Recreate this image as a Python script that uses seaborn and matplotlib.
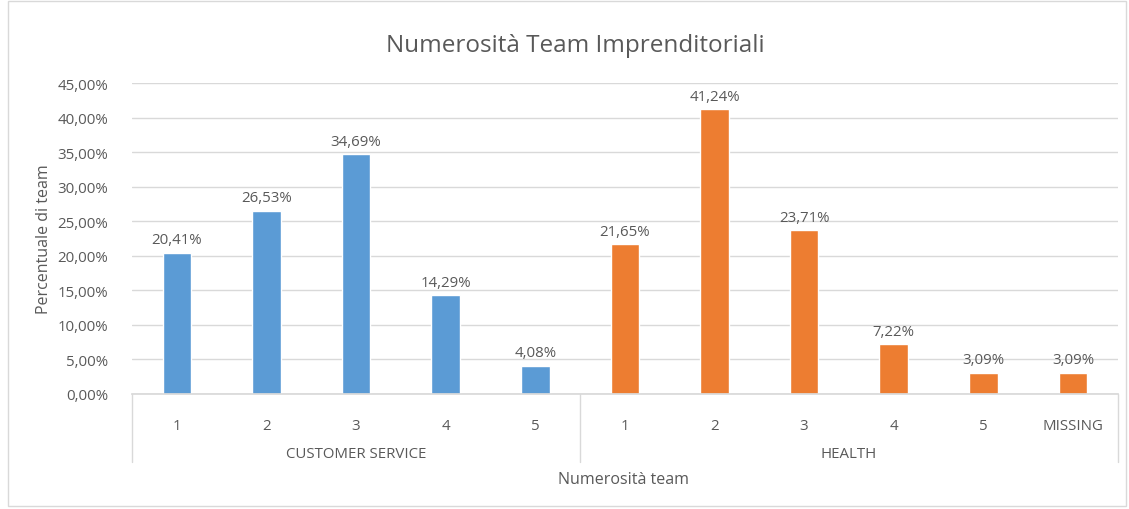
import numpy as np
import pandas as pd
import matplotlib
matplotlib.use("Agg")
import matplotlib.pyplot as plt
import matplotlib.transforms as mtransforms
import seaborn as sns

# data
groups = ["CUSTOMER SERVICE"] * 5 + ["HEALTH"] * 6
sizes = ["1", "2", "3", "4", "5", "1", "2", "3", "4", "5", "MISSING"]
values = [20.41, 26.53, 34.69, 14.29, 4.08, 21.65, 41.24, 23.71, 7.22, 3.09, 3.09]
yticks = [0, 5, 10, 15, 20, 25, 30, 35, 40, 45]

txt = "#595959"
colors = {"CUSTOMER SERVICE": "#5B9BD5", "HEALTH": "#ED7D31"}

sns.set_theme(style="white")
plt.rcParams["font.family"] = ["Open Sans", "DejaVu Sans"]

df = pd.DataFrame({
    "key": [f"{g}|{s}" for g, s in zip(groups, sizes)],
    "group": groups,
    "size": sizes,
    "pct": [v / 100 for v in values],
})

fig = plt.figure(figsize=(11.29, 5.10), dpi=100)
ax = fig.add_axes([0.117, 0.2255, 0.873, 0.6095])

sns.barplot(data=df, x="key", y="pct", hue="group", order=list(df["key"]),
            palette=colors, dodge=False, width=0.32, legend=False, ax=ax,
            saturation=1)

# data labels
for cont in ax.containers:
    labels = [f"{b.get_height()*100:.2f}%".replace(".", ",") for b in cont]
    ax.bar_label(cont, labels=labels, padding=4, fontsize=10.8, color=txt)

ax.set_ylim(0, 0.45)
ax.set_xlim(-0.5, len(sizes) - 0.5)
ax.set_yticks([t / 100 for t in yticks])
ax.set_yticklabels([f"{t:.2f}%".replace(".", ",") for t in yticks], fontsize=10.8, color=txt)
ax.yaxis.grid(True, color="#D9D9D9", linewidth=1)
ax.set_axisbelow(True)
for s in ["top", "right", "left"]:
    ax.spines[s].set_visible(False)
ax.spines["bottom"].set_color("#D9D9D9")
ax.tick_params(axis="y", length=0, pad=17)

ax.set_xticks(range(len(sizes)))
ax.set_xticklabels(sizes, fontsize=10.8, color=txt)
ax.tick_params(axis="x", length=0, pad=17)

# group level of the category axis
trans = mtransforms.blended_transform_factory(ax.transData, ax.transAxes)
bounds = [-0.5, 4.5, len(sizes) - 0.5]
for b in bounds:
    ax.plot([b, b], [0, -0.22], transform=trans, color="#D9D9D9", lw=1, clip_on=False)
for g in ["CUSTOMER SERVICE", "HEALTH"]:
    idx = [i for i, gg in enumerate(groups) if gg == g]
    ax.text(np.mean(idx), -0.19, g, transform=trans, ha="center", va="center",
            fontsize=10.8, color=txt)

ax.set_xlabel("")
ax.set_ylabel("Percentuale di team", fontsize=11.5, color=txt, labelpad=4)
fig.text(0.552, 0.058, "Numerosità team", ha="center", va="center", fontsize=11.5, color=txt)
fig.text(0.51, 0.91, "Numerosità Team Imprenditoriali", ha="center", va="center",
         fontsize=17.5, color=txt)

# chart border
fig.patches.append(plt.Rectangle((0.007, 0.006), 0.99, 0.99, transform=fig.transFigure,
                                 fill=False, edgecolor="#D9D9D9", lw=1))

fig.savefig("out.png", dpi=100)
